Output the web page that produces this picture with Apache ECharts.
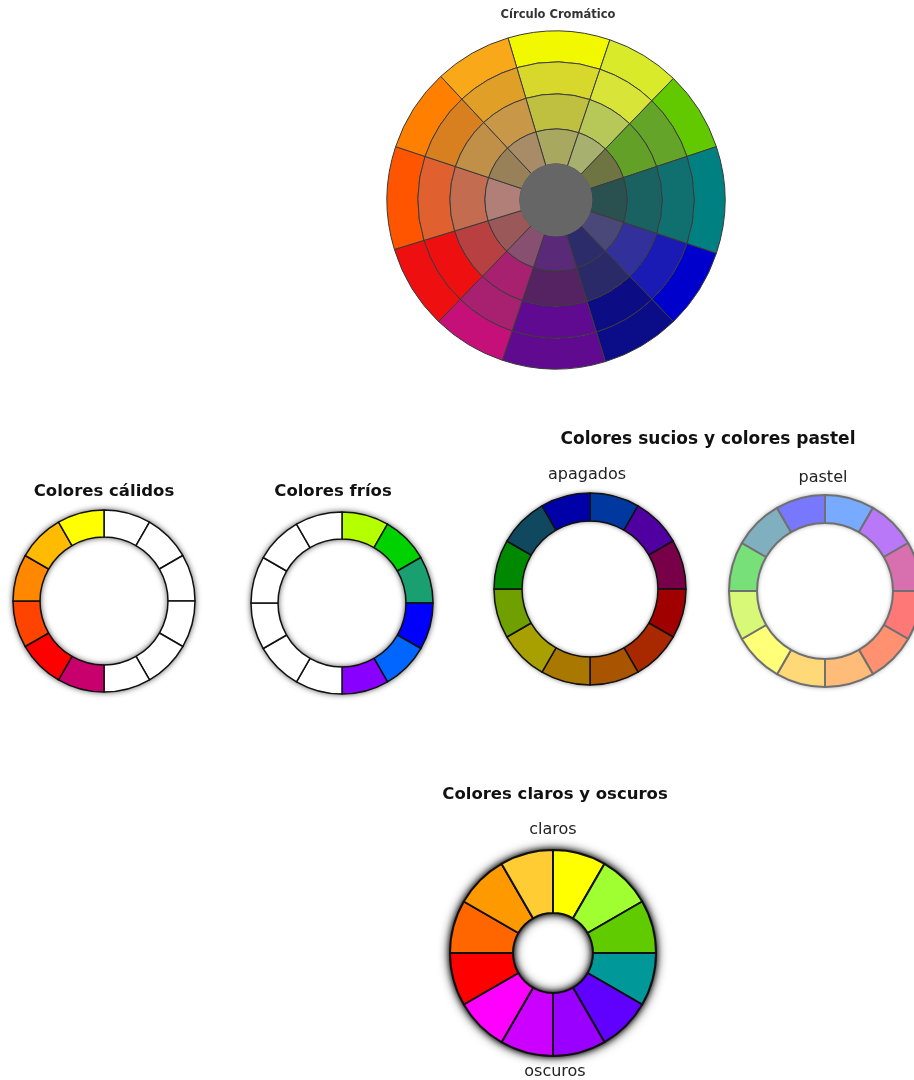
<!DOCTYPE html>
<html>
<head>
<meta charset="utf-8">
<style>html,body{margin:0;padding:0;background:#fff}#c{width:914px;height:1080px}</style>
<script src="https://cdn.jsdelivr.net/npm/echarts@6/dist/echarts.min.js"></script>
</head>
<body>
<div id="c"></div>
<script>
// ---- data ----
// main wheel: angular span (degrees) of each hue sector, clockwise starting just left of top
const mainSpan = [35.1, 25.4, 27.6, 36.8, 27.6, 27.0, 35.5, 25.5, 29.0, 35.4, 28.6, 26.5];
const mainStartOffset = 16.5; // degrees counter-clockwise from top where the first sector starts
const ringOuter = ['#F2F800','#D8EA2A','#62C800','#008080','#0000CC','#0A0C88','#600A90','#C41078','#EE1010','#FF5500','#FF8000','#F8A818'];
const ring2     = ['#D8D82C','#D8E438','#64A428','#107070','#1A1AB4','#0C0C84','#600A92','#A82070','#EE1010','#E06030','#D88020','#E0A028'];
const ring3     = ['#C0C040','#B8C858','#62A028','#1A6262','#32309A','#2A2A68','#552262','#A82070','#B84040','#C46C50','#C09048','#C89848'];
const ring4     = ['#A8A860','#A8B070','#6E7442','#2A5050','#4A4878','#2C2C6A','#5A2A78','#885070','#9A5858','#B08078','#988058','#A88C68'];
const centerGray = '#666666';

// small wheels: 12 equal sectors clockwise from top
const sectors = [1,1,1,1,1,1,1,1,1,1,1,1];
const calidos = ['#FFFFFF','#FFFFFF','#FFFFFF','#FFFFFF','#FFFFFF','#FFFFFF','#C8006E','#FF0000','#FF4400','#FF8800','#FFBB00','#FFFF00'];
const frios   = ['#B4FF00','#00D200','#1AA070','#0000FF','#0066FF','#8800FF','#FFFFFF','#FFFFFF','#FFFFFF','#FFFFFF','#FFFFFF','#FFFFFF'];
const apagados= ['#0038A0','#5000A0','#780048','#A00000','#A82800','#A85400','#A87800','#A8A000','#70A000','#008800','#104860','#0000A8'];
const pastel  = ['#78AAFF','#B878F8','#D870B0','#FF7878','#FF9070','#FFBC78','#FFD878','#FFFF78','#D8F878','#78E078','#80B0C0','#7878FF'];
const claros  = ['#FFFF00','#A0FF30','#60CC00','#009898','#6000FF','#9900FF','#CC00FF','#FF00FF','#FF0000','#FF6600','#FF9900','#FFCC33'];

const texts = [
  {t:'Círculo Cromático', x:558, y:15, bold:true, size:11.5, color:'#333'},
  {t:'Colores cálidos', x:104, y:492, bold:true, size:16.5, color:'#111'},
  {t:'Colores fríos', x:333, y:492, bold:true, size:16.5, color:'#111'},
  {t:'Colores sucios y colores pastel', x:708, y:440, bold:true, size:17, color:'#111'},
  {t:'apagados', x:587, y:475, bold:false, size:16, color:'#222'},
  {t:'pastel', x:823, y:478, bold:false, size:16, color:'#222'},
  {t:'Colores claros y oscuros', x:555, y:795, bold:true, size:16.5, color:'#111'},
  {t:'claros', x:553, y:830, bold:false, size:16, color:'#222'},
  {t:'oscuros', x:555, y:1072, bold:false, size:16, color:'#222'}
];

// ---- chart ----
const chart = echarts.init(document.getElementById('c'), null, {renderer:'canvas'});
const series = [];
function base(){
  return {type:'pie', silent:true, animation:false, label:{show:false}, labelLine:{show:false},
          emphasis:{disabled:true}, avoidLabelOverlap:false, clockwise:true};
}
function ring(center, rIn, rOut, values, colors, start, border, bw, z){
  const s = base();
  s.center = center; s.radius = [rIn, rOut]; s.startAngle = start; s.z = z || 2;
  s.data = values.map((v,i)=>({value:v, itemStyle:{color:colors[i]}}));
  s.itemStyle = {borderColor:border, borderWidth:bw};
  series.push(s);
}
function shadowRing(center, rIn, rOut, blur, alpha){
  const s = base();
  s.center = center; s.radius = [rIn, rOut]; s.z = 1;
  s.data = [{value:1}];
  s.itemStyle = {color:'#000', shadowBlur:blur, shadowColor:'rgba(0,0,0,'+alpha+')'};
  series.push(s);
}

// main wheel
const mc = [556, 200];
const mStart = 90 + mainStartOffset;
ring(mc, 138, 169, mainSpan, ringOuter, mStart, '#3a3a3a', 1);
ring(mc, 106, 138, mainSpan, ring2, mStart, '#3a3a3a', 1);
ring(mc, 71, 106, mainSpan, ring3, mStart, '#3a3a3a', 1);
ring(mc, 36, 71, mainSpan, ring4, mStart, '#3a3a3a', 1);
(function(){ const s = base(); s.center = mc; s.radius = [0, 36.5]; s.data=[{value:1, itemStyle:{color:centerGray}}]; s.z=3; series.push(s); })();

// warm
shadowRing([104, 601], 64, 91, 6, 0.8);
ring([104, 601], 64, 91, sectors, calidos, 90, '#111', 1.5);
// cold
shadowRing([342, 603], 64, 91, 6, 0.8);
ring([342, 603], 64, 91, sectors, frios, 90, '#111', 1.5);
// dull
shadowRing([590, 589], 68, 96, 5, 0.6);
ring([590, 589], 68, 96, sectors, apagados, 90, '#111', 1.5);
// pastel
shadowRing([825, 591], 68, 96, 5, 0.45);
ring([825, 591], 68, 96, sectors, pastel, 90, '#707070', 2);
// light & dark
shadowRing([553, 953], 40, 103, 12, 1);
shadowRing([553, 953], 40, 103, 6, 1);
ring([553, 953], 40, 103, sectors, claros, 90, '#111', 2);

const graphic = texts.map(o=>({type:'text', x:o.x, y:o.y, silent:true, z:10,
  style:{text:o.t, fill:o.color, align:'center', verticalAlign:'middle',
         font:(o.bold?'bold ':'')+o.size+'px "DejaVu Sans", Verdana, sans-serif'}}));

chart.setOption({animation:false, backgroundColor:'#fff', series:series, graphic:graphic});
</script>
</body>
</html>
